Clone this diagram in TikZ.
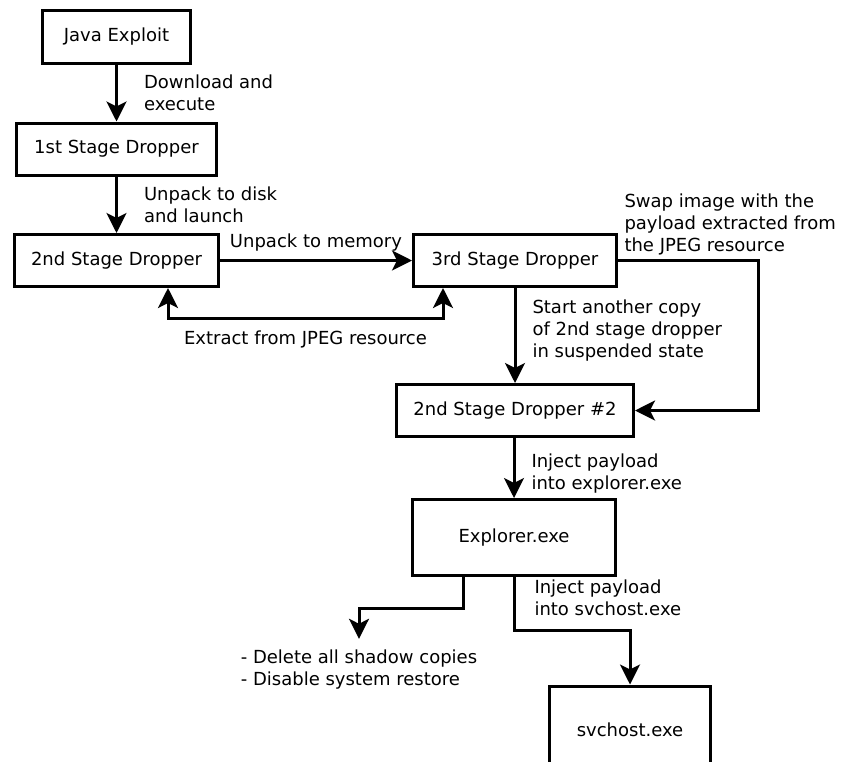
\documentclass[tikz,border=0pt]{standalone}
\usepackage{fontspec}
\setmainfont{DejaVu Sans}
\usetikzlibrary{shapes,arrows.meta}

\begin{document}
\begin{tikzpicture}[node distance = 112pt, auto, line width=3pt,
    font=\fontsize{18pt}{22pt}\selectfont]
  \tikzstyle{block} = [rectangle, draw, text centered, minimum height=52pt, inner sep=0pt]
  \tikzstyle{note} = [align=left, inner sep=0pt]
  \tikzstyle{line} = [draw, -{Stealth[length=20pt, width=20pt, inset=5pt]}]
  \tikzstyle{both} = [draw, {Stealth[length=20pt, width=20pt, inset=5pt]}-{Stealth[length=20pt, width=20pt, inset=5pt]}]

  \useasboundingbox (0,0) rectangle (853pt,-761pt);

  % Place nodes
  \node [block, minimum width=148pt, minimum height=53pt] (java) at (116.5pt,-37pt) {Java Exploit};

  \node [block, below of=java, minimum width=200pt] (first) {1st Stage Dropper};
  \node [block, below of=first, node distance=111.5pt, minimum width=204pt] (second) {2nd Stage Dropper};
  \node [block, right of=second, node distance=398.5pt, minimum width=203pt] (third) {3rd Stage Dropper};
  \node [block, below of=third, node distance=150pt, minimum width=237pt] (second2) {2nd Stage Dropper \#2};
  \node [block, below of=second2, node distance=127pt, xshift=-1pt, minimum width=203pt, minimum height=76pt] (explorer) {Explorer.exe};
  \node [block, below of=explorer, node distance=192pt, xshift=116pt, minimum width=161pt, minimum height=87pt] (svchost) {svchost.exe};

  \node [note, outer ysep=11pt, below of=explorer, node distance=132pt, xshift=-155pt] (shadow)
    {- Delete all shadow copies\\- Disable system restore};

  % Draw edges
  \path [line] (java) -- node [note, right=26pt] {Download and\\execute} (first);
  \path [line] (first) -- node [note, right=26pt] {Unpack to disk\\and launch} (second);
  \path [line] (second) -- node [note, above=8pt] {Unpack to memory} (third);
  \path [both] ([xshift=51.5pt]second.south) -- ++(0,-30pt)
    -- node [note, below=11pt] {Extract from JPEG resource} ++(275pt,0)
    -- ([xshift=-72pt]third.south);
  \path [line] (third) -- node [note, right=16pt, pos=0.45] {Start another copy\\of 2nd stage dropper\\in suspended state} (third |- second2.north);
  \path [line] (third.east)
    -- node [note, pos=0, anchor=south west, xshift=5pt, yshift=4pt] {Swap image with the\\payload extracted from\\the JPEG resource} ++(140pt,0)
    |- (second2.east);
  \path [line] (explorer |- second2.south) -- node [note, right=16pt, pos=0.6] {Inject payload\\into explorer.exe} (explorer);
  \path [line] (explorer.south) -- node [note, right=19pt, pos=0.4] {Inject payload\\into svchost.exe} ++(0,-53pt)
    -| (svchost.north);
  \path [line] ([xshift=-51pt]explorer.south) -- ++(0,-31pt) -| (shadow.north);

\end{tikzpicture}
\end{document}
